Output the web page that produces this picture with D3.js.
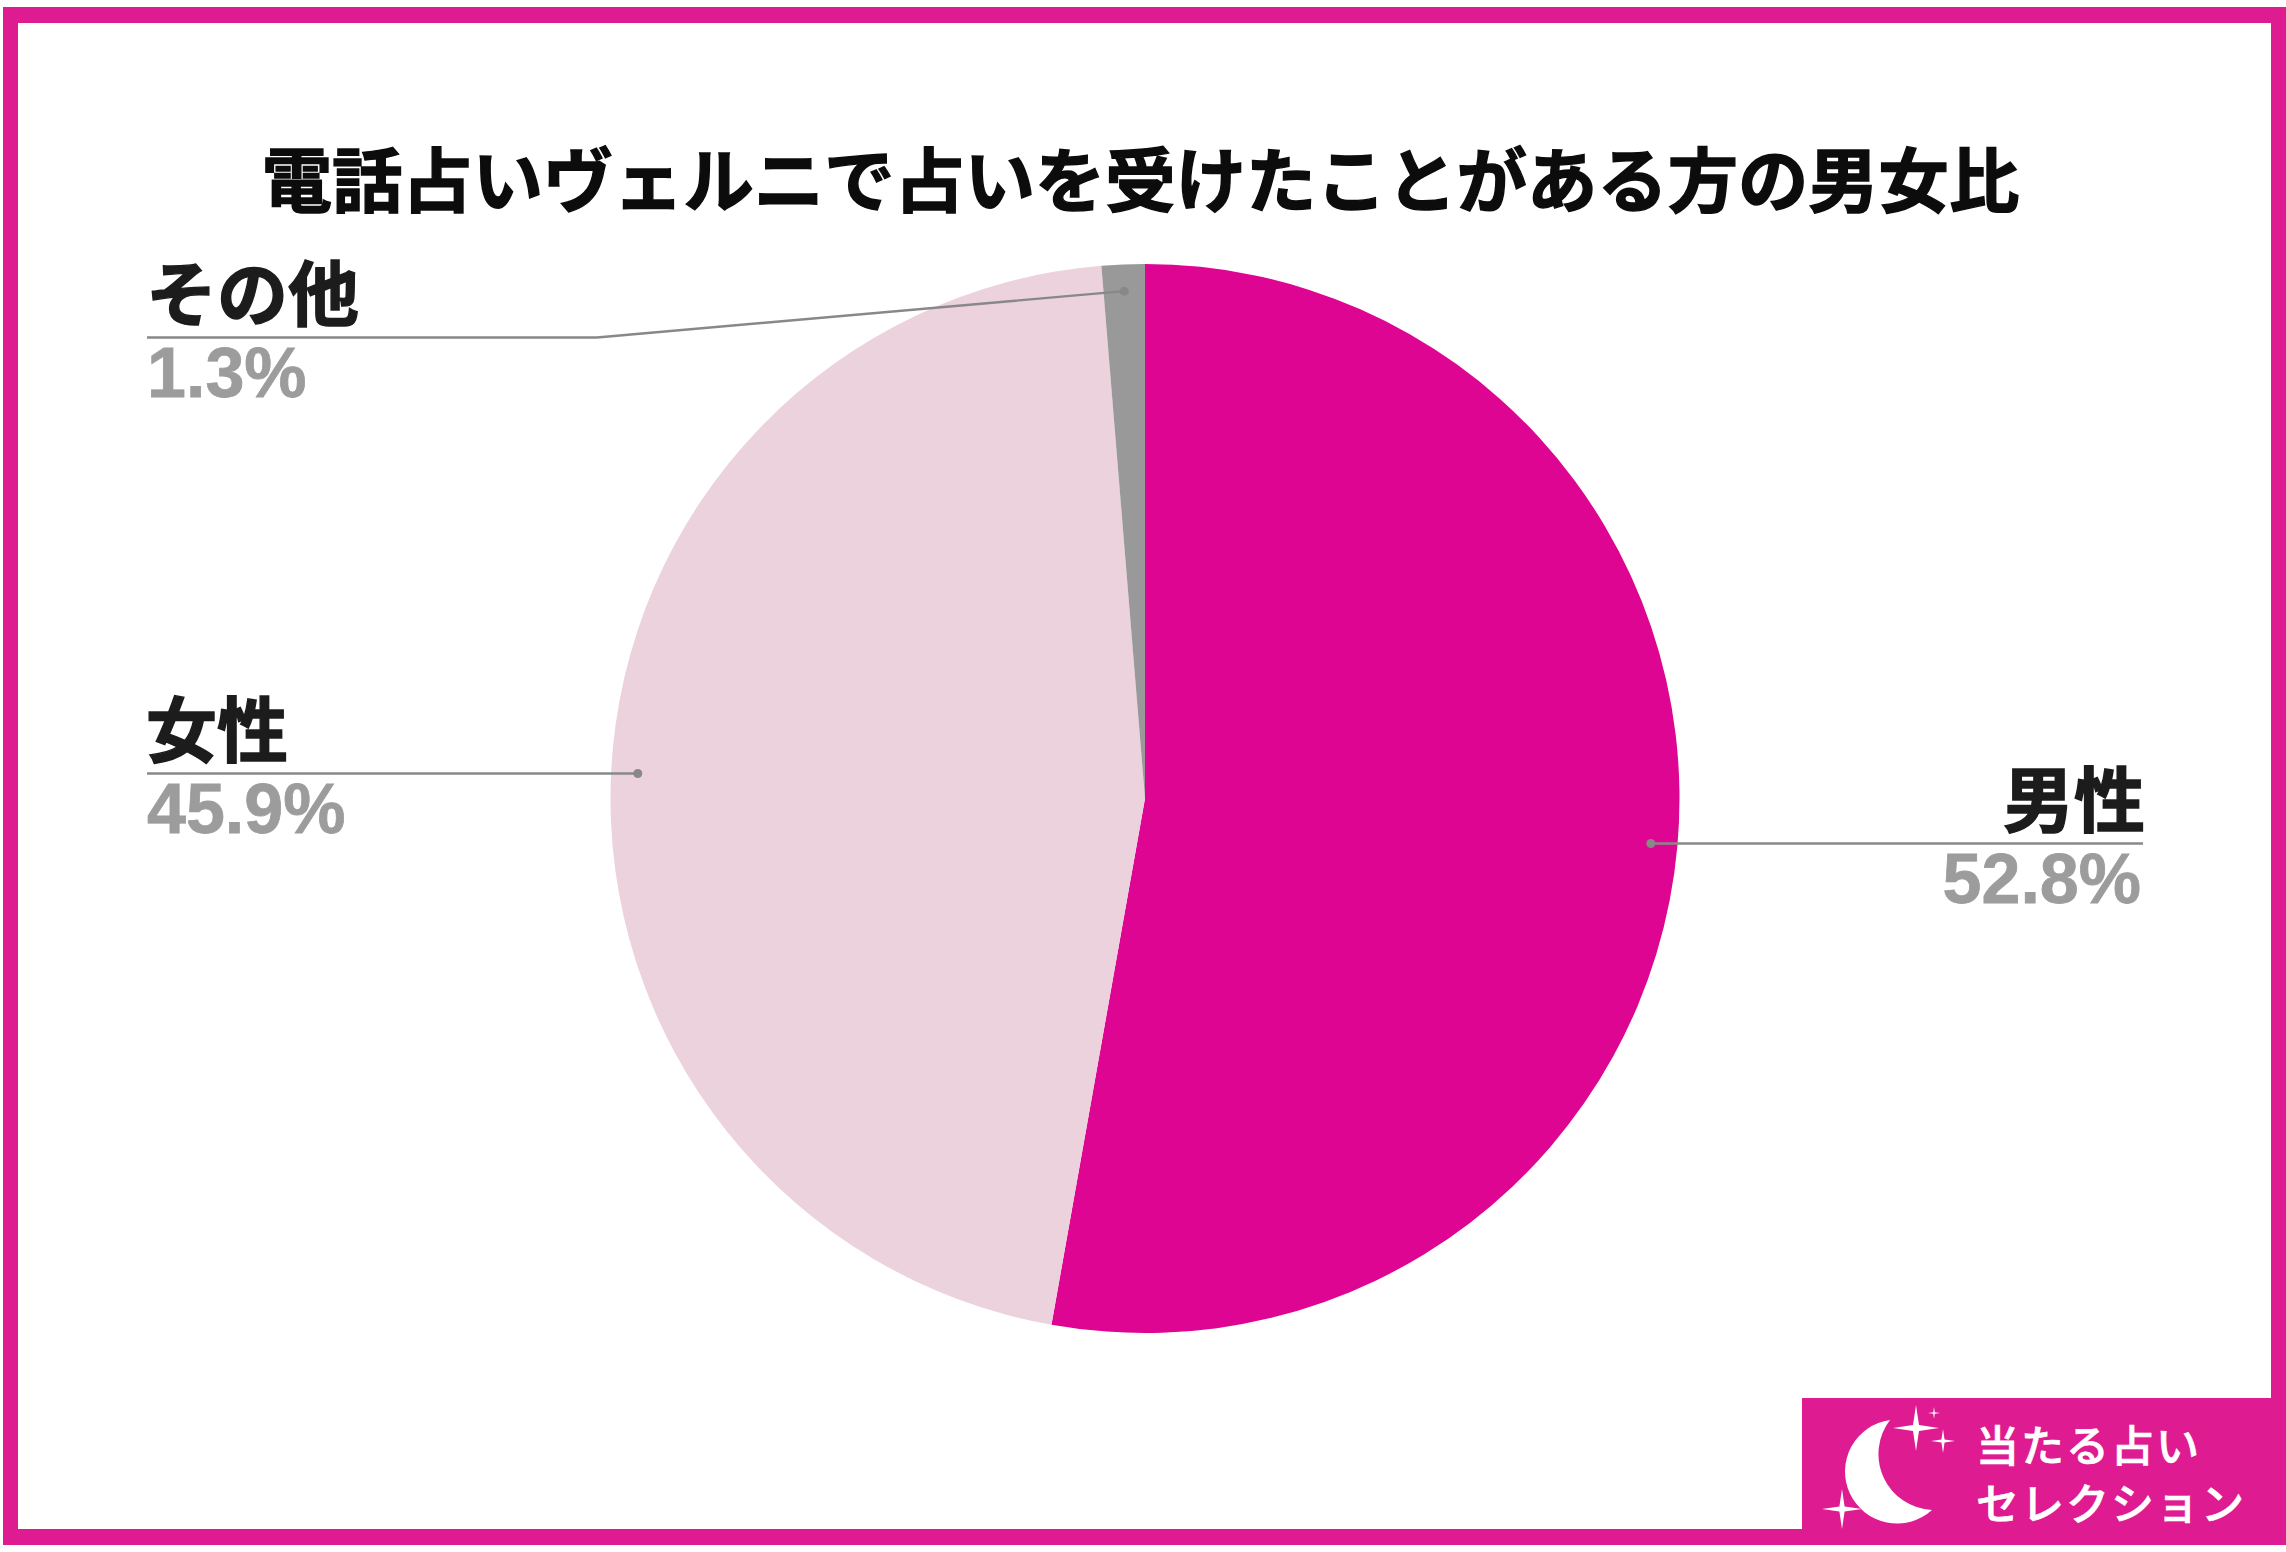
<!DOCTYPE html>
<html><head><meta charset="utf-8">
<script src="https://cdn.jsdelivr.net/npm/d3@7/dist/d3.min.js"></script>
<style>html,body{margin:0;padding:0;background:#fff}svg{display:block}</style>
</head><body><div id="c"></div>
<script>
const categories=["男性","女性","その他"];
const values=[52.8,45.9,1.3];
const colors=["#DD0592","#EBD2DC","#999999"];
const titleText="電話占いヴェルニで占いを受けたことがある方の男女比";
const logoLines=["当たる占い","セレクション"];

const W=2286,H=1552,cx=1145,cy=798.5,R=534.5;
const jp='"Noto Sans CJK JP","Noto Sans",sans-serif';
const num='"Liberation Sans",Arial,sans-serif';
const svg=d3.select("#c").append("svg").attr("width",W).attr("height",H);
svg.append("rect").attr("width",W).attr("height",H).attr("fill","#fff");
// frame
const pink="#DE1B90";
svg.append("path").attr("fill",pink).attr("fill-rule","evenodd")
  .attr("d",`M3 7H${W}V1545H3Z M18 23V1529H2271V23Z`);
svg.append("text").attr("x",1140.5).attr("y",176).attr("text-anchor","middle")
  .attr("dominant-baseline","central").attr("font-family",jp).attr("font-weight",700)
  .attr("font-size",70.3).attr("stroke","#0c0c0c").attr("stroke-width",1.4).attr("fill","#0c0c0c").text(titleText);
// pie
const pie=d3.pie().sort(null).value(d=>d);
const arcs=pie(values);
const arc=d3.arc().innerRadius(0).outerRadius(R);
const g=svg.append("g").attr("transform",`translate(${cx},${cy})`);
g.selectAll("path.s").data(arcs).join("path").attr("class","s").attr("d",arc).attr("fill",(d,i)=>colors[i]);
// leaders
const lr=d3.arc().innerRadius(R*0.95).outerRadius(R*0.95);
const labels=[
 {i:0,anchor:"end",tx:2143,lineY:843.5,elbow:null},
 {i:1,anchor:"start",tx:147,lineY:773.5,elbow:null},
 {i:2,anchor:"start",tx:147,lineY:337.5,elbow:597}
];
labels.forEach(l=>{
  const [px,py]=lr.centroid(arcs[l.i]);
  const x=px+cx,y=py+cy;
  const pts=l.elbow?[[l.tx,l.lineY],[l.elbow,l.lineY],[x,y]]:[[l.tx,l.lineY],[x,l.lineY]];
  svg.append("path").attr("d",d3.line()(pts)).attr("fill","none").attr("stroke","#888").attr("stroke-width",2.4);
  svg.append("circle").attr("cx",x).attr("cy",l.elbow?y:l.lineY).attr("r",4.5).attr("fill","#888");
  svg.append("text").attr("x",l.tx+(l.anchor=="end"?2:-1)).attr("y",l.lineY-18).attr("text-anchor",l.anchor)
    .attr("font-family",jp).attr("font-weight",700).attr("font-size",71)
    .attr("stroke","#1c1c1c").attr("stroke-width",1.4).attr("fill","#1c1c1c").text(categories[l.i]);
  svg.append("text").attr("x",l.tx+(l.anchor=="end"?-2:0)).attr("y",l.lineY+59).attr("text-anchor",l.anchor)
    .attr("font-family",num).attr("font-weight",700).attr("font-size",70)
    .attr("stroke","#9c9c9c").attr("stroke-width",.8).attr("fill","#9c9c9c").text(values[l.i].toFixed(1)+"%");
});
// logo
svg.append("rect").attr("x",1802).attr("y",1398).attr("width",W-1802).attr("height",147).attr("fill",pink);
const lx=1780,ly=1380;
svg.append("path").attr("fill","#fff")
 .attr("d",`M${lx+110} ${ly+40}A52 52 0 1 0 ${lx+152} ${ly+130}A56 56 0 0 1 ${lx+110} ${ly+40}Z`);
function star(x,y,r){
  const k=r*0.13;
  svg.append("path").attr("fill","#fff").attr("d",`M${x} ${y-r}L${x+k} ${y-k}L${x+r} ${y}L${x+k} ${y+k}L${x} ${y+r}L${x-k} ${y+k}L${x-r} ${y}L${x-k} ${y-k}Z`);
}
star(lx+136,ly+48,23);star(lx+154,ly+33,6);star(lx+163,ly+61,12);star(lx+62,ly+129,20);
svg.selectAll("text.logo").data(logoLines).join("text").attr("class","logo")
  .attr("x",lx+196).attr("y",(d,i)=>ly+82+i*58).attr("font-family",jp).attr("font-weight",500)
  .attr("font-size",43).attr("letter-spacing",2).attr("stroke","#fff").attr("stroke-width",.7).attr("fill","#fff").text(d=>d);
</script></body></html>
